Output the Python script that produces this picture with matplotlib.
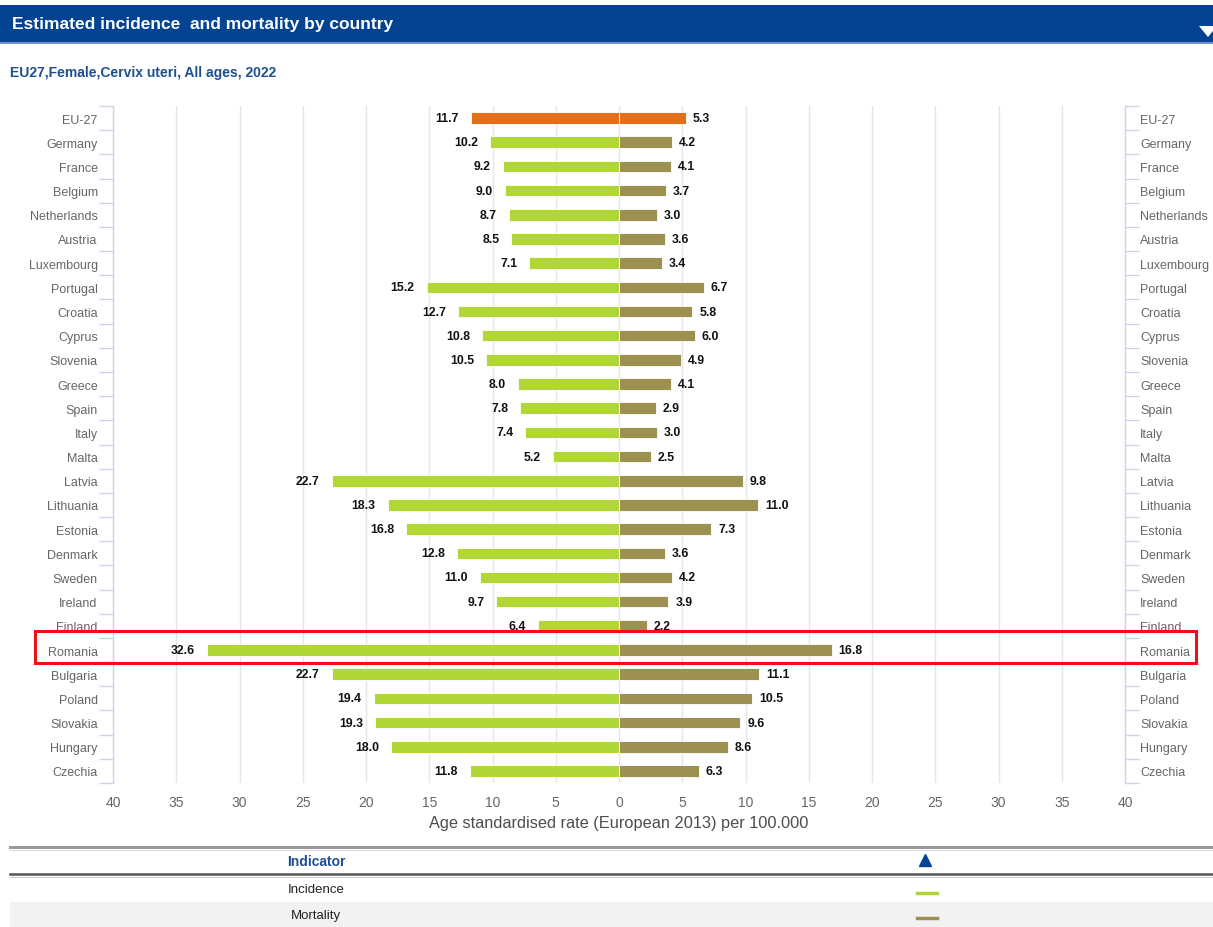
import numpy as np
import matplotlib.pyplot as plt
import matplotlib.transforms as mtransforms
from matplotlib.patches import Rectangle, Polygon
from matplotlib.ticker import FixedLocator, FuncFormatter

plt.rcParams['font.family'] = ['Liberation Sans', 'DejaVu Sans']

# data
countries = ['EU-27', 'Germany', 'France', 'Belgium', 'Netherlands', 'Austria',
             'Luxembourg', 'Portugal', 'Croatia', 'Cyprus', 'Slovenia', 'Greece',
             'Spain', 'Italy', 'Malta', 'Latvia', 'Lithuania', 'Estonia',
             'Denmark', 'Sweden', 'Ireland', 'Finland', 'Romania', 'Bulgaria',
             'Poland', 'Slovakia', 'Hungary', 'Czechia']
incidence = [11.7, 10.2, 9.2, 9.0, 8.7, 8.5, 7.1, 15.2, 12.7, 10.8, 10.5, 8.0,
             7.8, 7.4, 5.2, 22.7, 18.3, 16.8, 12.8, 11.0, 9.7, 6.4, 32.6, 22.7,
             19.4, 19.3, 18.0, 11.8]
mortality = [5.3, 4.2, 4.1, 3.7, 3.0, 3.6, 3.4, 6.7, 5.8, 6.0, 4.9, 4.1,
             2.9, 3.0, 2.5, 9.8, 11.0, 7.3, 3.6, 4.2, 3.9, 2.2, 16.8, 11.1,
             10.5, 9.6, 8.6, 6.3]
xticks = np.arange(-40, 45, 5)
highlight = 'Romania'

GREEN = '#b1d736'
OLIVE = '#9c9150'
ORANGE = '#e2701b'
BLUE = '#034391'
AXCOL = '#ccd6eb'

W, H = 1213, 928
fig = plt.figure(figsize=(W / 100, H / 100), dpi=100)

# background layer in pixel coordinates (header, legend table)
bg = fig.add_axes([0, 0, 1, 1])
bg.set_xlim(0, W)
bg.set_ylim(H, 0)
bg.axis('off')

bg.add_patch(Rectangle((0, 6), W, 37, color=BLUE, lw=0))
bg.add_patch(Rectangle((0, 43), W, 2, color='#7394c8', lw=0))
bg.text(12, 25, 'Estimated incidence  and mortality by country', color='white',
        fontsize=12.5, fontweight='bold', va='center', ha='left')
bg.add_patch(Polygon([[1199, 27], [1217, 27], [1208, 38]], closed=True,
                     color='white', lw=0))
bg.text(10, 73, 'EU27,Female,Cervix uteri, All ages, 2022', color='#1d4f91',
        fontsize=10, fontweight='bold', va='center', ha='left')

# legend table
bg.plot([10, W], [848, 848], color='#9a9a9a', lw=2.2)
bg.plot([10, W], [850.5, 850.5], color='#dddddd', lw=0.8)
bg.text(316, 862, 'Indicator', color='#1d4f91', fontsize=10, fontweight='bold',
        ha='center', va='center')
bg.plot([925], [861], marker='^', color=BLUE, markersize=8)
bg.plot([10, W], [875, 875], color='#555555', lw=1.8)
bg.plot([10, W], [877.5, 877.5], color='#cccccc', lw=0.8)
bg.add_patch(Rectangle((10, 903), W - 10, 25, color='#f2f2f2', lw=0))
bg.text(316, 890, 'Incidence', color='#222222', fontsize=9.5, ha='center', va='center')
bg.text(316, 916, 'Mortality', color='#222222', fontsize=9.5, ha='center', va='center')
bg.plot([917, 937], [894, 894], color=GREEN, lw=2.5)
bg.plot([917, 937], [919, 919], color=OLIVE, lw=2.5)

# main chart
ax = fig.add_axes([113 / W, 1 - 784 / H, 1012 / W, 677 / H])
ax.patch.set_alpha(0)
y = np.arange(len(countries))
inc = np.array(incidence)
mor = np.array(mortality)
inc_col = [ORANGE if c == 'EU-27' else GREEN for c in countries]
mor_col = [ORANGE if c == 'EU-27' else OLIVE for c in countries]
ax.barh(y, -inc, height=0.48, color=inc_col, edgecolor='white', lw=0.6, zorder=2)
ax.barh(y, mor, height=0.48, color=mor_col, edgecolor='white', lw=0.6, zorder=2)

for i in range(len(countries)):
    ax.annotate(f'{inc[i]:.1f}', (-inc[i], y[i]), xytext=(-12, 0),
                textcoords='offset pixels', ha='right', va='center',
                fontsize=8.8, fontweight='bold', color='#111111', zorder=3)
    ax.annotate(f'{mor[i]:.1f}', (mor[i], y[i]), xytext=(7, 0),
                textcoords='offset pixels', ha='left', va='center',
                fontsize=8.8, fontweight='bold', color='#111111', zorder=3)

ax.set_xlim(-40, 40)
ax.set_ylim(len(countries) - 0.5, -0.5)
ax.set_xticks(xticks)
ax.xaxis.set_major_formatter(FuncFormatter(lambda v, p: f'{abs(v):.0f}'))
ax.tick_params(axis='x', length=0, pad=9, labelsize=10, labelcolor='#666666')
ax.grid(axis='x', color='#e6e6e6', lw=1, zorder=0)
ax.set_axisbelow(True)

ax.set_yticks(y)
ax.set_yticklabels(countries)
ax.yaxis.set_minor_locator(FixedLocator(np.arange(-0.5, len(countries), 1)))
ax.tick_params(axis='y', which='major', length=0, pad=11, labelsize=9,
               labelcolor='#666666', left=True, right=True,
               labelleft=True, labelright=True)
ax.tick_params(axis='y', which='minor', length=10, width=1, color=AXCOL,
               direction='out', left=True, right=True)
for s in ['top', 'bottom']:
    ax.spines[s].set_visible(False)
for s in ['left', 'right']:
    ax.spines[s].set_color(AXCOL)
    ax.spines[s].set_linewidth(1)

ax.set_xlabel('Age standardised rate (European 2013) per 100.000',
              fontsize=11.8, color='#4d4d4d', labelpad=4)

# red highlight box around one row
ri = countries.index(highlight)
blend = mtransforms.blended_transform_factory(bg.transData, ax.transData)
ax.add_patch(Rectangle((35, ri - 0.78), 1161, 1.32, transform=blend,
                       fill=False, edgecolor='#ee1111', lw=2.2,
                       clip_on=False, zorder=10))

fig.savefig('out.png', dpi=100)
